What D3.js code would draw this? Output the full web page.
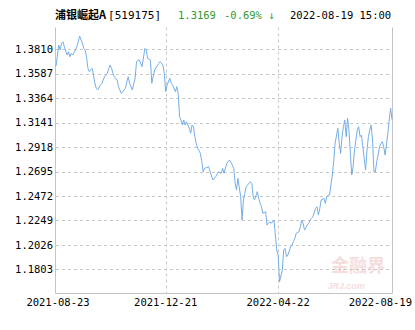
<!DOCTYPE html>
<html><head><meta charset="utf-8">
<script src="https://cdn.jsdelivr.net/npm/d3@7"></script>
<style>body{margin:0;background:#fff}svg{display:block}</style>
</head><body>
<svg id="c" width="415" height="330"></svg>
<script>
const fundName = "浦银崛起A";
const fundCode = "[519175]";
const lastNav = "1.3169";
const lastChange = "-0.69% ↓";
const lastTime = "2022-08-19 15:00";

const xTickDays = [0, 79, 160, 242];
const xTickLabels = ["2021-08-23", "2021-12-21", "2022-04-22", "2022-08-19"];
const yTicks = [1.1803, 1.2026, 1.2249, 1.2472, 1.2695, 1.2918, 1.3141, 1.3364, 1.3587, 1.3810];

const day = [0,2,3,4,5,6,8,9,10,11,12,14,15,16,17,19,20,21,22,23,24,26,27,28,29,30,32,33,34,35,37,38,39,40,41,42,44,45,46,47,48,50,51,52,53,55,56,57,58,59,60,62,64,65,66,68,69,71,74,75,77,78,79,80,82,83,84,86,87,88,89,90,91,92,93,94,96,97,98,99,100,101,102,104,105,106,107,110,111,113,115,117,119,120,121,123,125,127,128,129,130,131,133,134,135,136,137,138,140,141,142,143,145,146,147,148,149,151,152,153,154,155,157,158,159,160,161,163,164,165,166,167,169,170,171,172,173,175,176,177,178,179,181,182,183,184,185,187,188,189,190,191,193,194,195,196,197,198,199,200,201,203,204,205,206,207,208,209,210,211,212,213,214,215,216,217,218,219,220,221,222,223,224,225,226,227,228,229,230,231,232,233,234,235,236,237,238,239,240,241,242];
const nav = [1.3658,1.3849,1.3804,1.3865,1.3879,1.3834,1.3758,1.3788,1.3742,1.3773,1.3758,1.3804,1.3834,1.3879,1.3931,1.3865,1.3819,1.3804,1.3742,1.3637,1.3606,1.3637,1.3575,1.3500,1.3454,1.3439,1.3484,1.3500,1.3530,1.3560,1.3591,1.3637,1.3667,1.3637,1.3591,1.3560,1.3530,1.3469,1.3439,1.3408,1.3423,1.3454,1.3514,1.3560,1.3500,1.3439,1.3500,1.3545,1.3697,1.3712,1.3712,1.3651,1.3819,1.3804,1.3728,1.3712,1.3500,1.3621,1.3682,1.3697,1.3667,1.3591,1.3423,1.3484,1.3545,1.3500,1.3484,1.3423,1.3469,1.3408,1.3195,1.3165,1.3119,1.3165,1.3119,1.3149,1.3089,1.3044,1.3119,1.3104,1.3013,1.2952,1.2907,1.2861,1.2785,1.2693,1.2724,1.2739,1.2693,1.2618,1.2648,1.2693,1.2679,1.2724,1.2679,1.2770,1.2800,1.2754,1.2724,1.2590,1.2526,1.2633,1.2465,1.2253,1.2435,1.2496,1.2556,1.2572,1.2602,1.2587,1.2465,1.2435,1.2511,1.2450,1.2405,1.2374,1.2314,1.2328,1.2207,1.2222,1.2237,1.2222,1.2253,1.2116,1.1979,1.1933,1.1690,1.1796,1.1979,1.1994,1.1918,1.1933,1.2009,1.2024,1.2055,1.2086,1.2131,1.2146,1.2191,1.2253,1.2222,1.2161,1.2207,1.2222,1.2253,1.2268,1.2283,1.2359,1.2374,1.2298,1.2359,1.2435,1.2450,1.2405,1.2465,1.2481,1.2481,1.2572,1.2663,1.2785,1.2952,1.3089,1.2952,1.2861,1.3013,1.3104,1.3165,1.3013,1.3180,1.3074,1.2861,1.2663,1.2739,1.2891,1.2982,1.3074,1.3104,1.3013,1.3028,1.2921,1.2815,1.2709,1.2891,1.3013,1.3074,1.3119,1.2982,1.2693,1.2693,1.2785,1.2846,1.2921,1.2952,1.2967,1.2921,1.2846,1.2937,1.3044,1.3165,1.3272,1.3169];

const svg = d3.select("#c");
const L = 56, R = 392, T = 27.5, B = 293;
const x = d3.scaleLinear().domain([0, 242]).range([L, R]);
const y = d3.scaleLinear().domain([1.1587, 1.4009]).range([B, T]);
const mono = "'DejaVu Sans Mono', 'Liberation Mono', monospace";

// horizontal grid
svg.append("g").selectAll("line").data(yTicks).join("line")
  .attr("x1", L).attr("x2", R)
  .attr("y1", d => Math.round(y(d)) + 0.5).attr("y2", d => Math.round(y(d)) + 0.5)
  .attr("stroke", "#c8c8c8").attr("stroke-dasharray", "3,3");
// vertical grid
svg.append("g").selectAll("line").data(xTickDays.slice(1, -1)).join("line")
  .attr("x1", d => Math.round(x(d)) + 0.5).attr("x2", d => Math.round(x(d)) + 0.5)
  .attr("y1", T).attr("y2", B)
  .attr("stroke", "#c8c8c8").attr("stroke-dasharray", "3,3");

// frame
svg.append("path")
  .attr("d", `M${L - 0.5},${T}V${B + 0.5}H${R + 0.5}V${T}`)
  .attr("fill", "none").attr("stroke", "#c4c4c4");

// watermark
const wm = svg.append("g").attr("opacity", 0.35);
wm.append("text").attr("x", 358).attr("y", 272).attr("text-anchor", "middle")
  .attr("font-family", "'Noto Sans CJK SC', sans-serif").attr("font-weight", "bold")
  .attr("font-size", 18).attr("fill", "#e8a0a0").text("金融界");
wm.append("text").attr("x", 346).attr("y", 289).attr("text-anchor", "middle")
  .attr("font-family", "'Liberation Sans', sans-serif").attr("font-style", "italic").attr("font-weight", "bold")
  .attr("font-size", 9).attr("fill", "#e8a0a0").text("JRJ.com");

// line
const pts = day.map((d, i) => [d, nav[i]]);
svg.append("path").datum(pts)
  .attr("d", d3.line().x(d => x(d[0])).y(d => y(d[1])))
  .attr("fill", "none").attr("stroke", "#74aee8").attr("stroke-width", 1);

// y labels
svg.append("g").selectAll("text").data(yTicks).join("text")
  .attr("x", 53).attr("y", d => y(d)).attr("dy", "0.35em")
  .attr("text-anchor", "end").attr("font-family", mono).attr("font-size", 10.5)
  .attr("fill", "#000").text(d => d.toFixed(4));

// x labels
svg.append("g").selectAll("text").data(xTickDays).join("text")
  .attr("x", (d, i) => i === xTickDays.length - 1 ? 412 : x(d) + (i === 0 ? 2 : 0))
  .attr("y", 306)
  .attr("text-anchor", (d, i) => i === xTickDays.length - 1 ? "end" : "middle")
  .attr("font-family", mono).attr("font-size", 10.5).attr("fill", "#000")
  .text((d, i) => xTickLabels[i]);

// title
const t = svg.append("text").attr("y", 19).attr("font-size", 11);
t.append("tspan").attr("x", 55).attr("font-family", "'Noto Sans CJK SC', sans-serif").attr("font-weight", "bold").text(fundName);
t.append("tspan").attr("dx", 2).attr("font-family", mono).text(fundCode);
svg.append("text").attr("x", 178).attr("y", 19).attr("font-family", mono).attr("font-size", 10.5)
  .attr("fill", "#2f9a2f").text(lastNav);
svg.append("text").attr("x", 224).attr("y", 19).attr("font-family", mono).attr("font-size", 10.5)
  .attr("fill", "#2f9a2f").text(lastChange);
svg.append("text").attr("x", 290).attr("y", 19).attr("font-family", mono).attr("font-size", 10.5)
  .attr("fill", "#000").text(lastTime);
</script>
</body></html>
